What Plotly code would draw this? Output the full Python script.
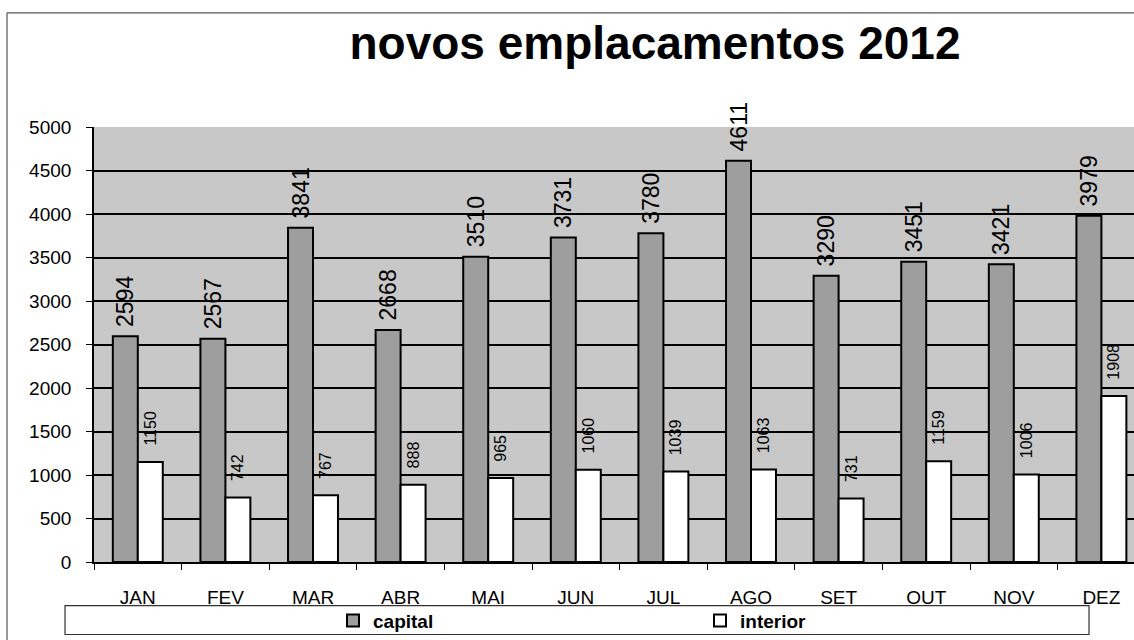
import plotly.graph_objects as go

months = ["JAN", "FEV", "MAR", "ABR", "MAI", "JUN", "JUL", "AGO", "SET", "OUT", "NOV", "DEZ"]
capital = [2594, 2567, 3841, 2668, 3510, 3731, 3780, 4611, 3290, 3451, 3421, 3979]
interior = [1150, 742, 767, 888, 965, 1060, 1039, 1063, 731, 1159, 1006, 1908]
y_ticks = list(range(0, 5001, 500))

W, H = 1134, 640
L, R, T, B = 94, 0, 127, 75
PW = W - L - R
PH = H - T - B
CAT_W = 87.6
FONT = "Liberation Sans, Arial, sans-serif"


def px_x(p):
    return (p - L) / PW


def px_y(p):
    return (H - B - p) / PH


fig = go.Figure()
fig.add_trace(go.Bar(
    x=months, y=capital, name="capital",
    marker=dict(color="#9e9e9e", line=dict(color="black", width=2)),
    texttemplate="\u00a0%{y}", textposition="outside", textangle=-90,
    textfont=dict(size=23, color="black", family=FONT),
    cliponaxis=False, constraintext="none", legend="legend", showlegend=True,
))
fig.add_trace(go.Bar(
    x=months, y=interior, name="interior",
    marker=dict(color="white", line=dict(color="black", width=2)),
    texttemplate="\u00a0\u00a0\u00a0%{y}", textposition="outside", textangle=-90,
    textfont=dict(size=16, color="black", family=FONT),
    cliponaxis=False, constraintext="none", legend="legend2", showlegend=True,
))

x_end = -0.5 + PW / CAT_W

fig.update_layout(
    width=W, height=H, autosize=False, showlegend=True,
    margin=dict(l=L, r=R, t=T, b=B, pad=0),
    paper_bgcolor="white", plot_bgcolor="#c8c8c8",
    font=dict(family=FONT, color="black"),
    title=dict(text="<b>novos emplacamentos 2012</b>", font=dict(size=46, family=FONT, color="black"),
               x=655 / W, xref="container", xanchor="center",
               y=1 - 43 / H, yref="container", yanchor="middle"),
    barmode="group", bargap=0.43, bargroupgap=0.0,
    xaxis=dict(range=[-0.5, x_end], showline=True, linecolor="black", linewidth=1.6,
               ticks="outside", tickson="boundaries", ticklen=6, tickcolor="black",
               tickfont=dict(size=19, family=FONT), showgrid=False, fixedrange=True,
               ticklabelstandoff=17),
    yaxis=dict(range=[0, 5000], tickvals=y_ticks, showline=True, linecolor="black", linewidth=1.6,
               ticks="outside", ticklen=6, tickcolor="black", gridcolor="black", gridwidth=1.6,
               tickfont=dict(size=19, family=FONT), zeroline=False, fixedrange=True,
               ticklabelstandoff=11),
    legend=dict(x=px_x(333), y=px_y(624), xref="paper", yref="paper", xanchor="left", yanchor="middle",
                orientation="h", bgcolor="rgba(0,0,0,0)", font=dict(size=19, family=FONT, weight="bold")),
    legend2=dict(x=px_x(700), y=px_y(624), xref="paper", yref="paper", xanchor="left", yanchor="middle",
                 orientation="h", bgcolor="rgba(0,0,0,0)", font=dict(size=19, family=FONT, weight="bold")),
    shapes=[
        dict(type="rect", xref="paper", yref="paper", x0=px_x(65), x1=px_x(1089), y0=px_y(609), y1=px_y(638),
             line=dict(color="#333333", width=1.2), fillcolor="rgba(0,0,0,0)", layer="below"),
        dict(type="line", xref="paper", yref="paper", x0=px_x(7), x1=px_x(W + 5), y0=px_y(12), y1=px_y(12),
             line=dict(color="#555555", width=1.2)),
        dict(type="line", xref="paper", yref="paper", x0=px_x(7), x1=px_x(7), y0=px_y(12), y1=px_y(H + 5),
             line=dict(color="#555555", width=1.2)),
    ],
)

fig.write_html("out.html", config={"displayModeBar": False},
               post_script="document.body.style.margin='0';document.body.style.overflow='hidden';")
